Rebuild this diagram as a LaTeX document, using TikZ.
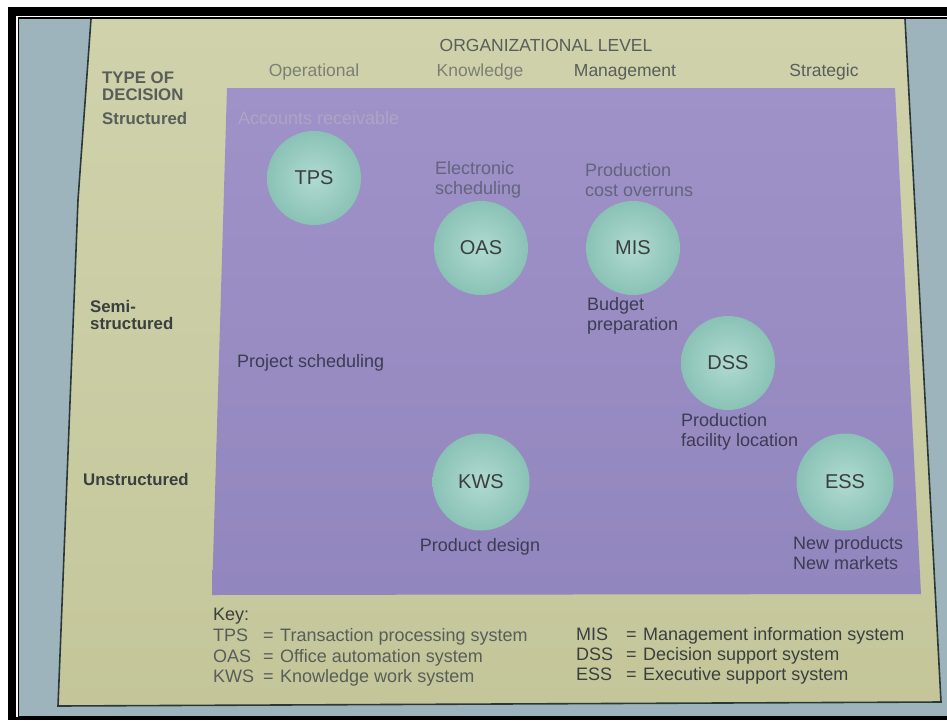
\documentclass[tikz,border=0pt]{standalone}
\usepackage{fontspec}
\setmainfont{Liberation Sans}
\usepackage{tikz}

\definecolor{photoblue}{RGB}{158,180,188}
\definecolor{pagetop}{RGB}{208,210,172}
\definecolor{pagebottom}{RGB}{196,198,154}
\definecolor{pageedge}{RGB}{44,56,56}
\definecolor{gridtop}{RGB}{158,146,200}
\definecolor{gridbottom}{RGB}{146,134,190}
\definecolor{ballcore}{RGB}{176,218,210}
\definecolor{ballrim}{RGB}{138,194,182}
\definecolor{inkdark}{RGB}{58,64,62}
\definecolor{inkmid}{RGB}{88,94,88}
\definecolor{inklight}{RGB}{122,128,116}
\definecolor{inkpurple}{RGB}{60,60,84}
\definecolor{inkfaded}{RGB}{100,100,126}
\definecolor{inkfaint}{RGB}{172,166,196}

\newcommand{\keyrow}[2]{\makebox[50pt][l]{#1}\makebox[17pt][l]{=}#2}

\tikzset{
  sys/.style={circle, minimum size=94pt, inner sep=0pt, inner color=ballcore,
    outer color=ballrim, text=inkdark, font=\fontsize{20}{22}\selectfont},
  task/.style={anchor=west, align=left, inner sep=0pt, text=inkpurple,
    font=\fontsize{18}{19.5}\selectfont},
  orglevel/.style={inner sep=0pt, font=\fontsize{17.5}{20}\selectfont},
  decision/.style={anchor=west, align=left, inner sep=0pt, text=inkdark,
    font=\bfseries\fontsize{16.8}{17}\selectfont},
  keyitem/.style={anchor=base west, inner sep=0pt, text=inkdark,
    font=\fontsize{18}{20}\selectfont},
}

\begin{document}
\begin{tikzpicture}[x=1pt, y=-1pt]
    \useasboundingbox (0,0) rectangle (947,720);

    % Photo frame and background
    \fill[white] (0,0) rectangle (947,720);
    \fill[black] (8,7) rectangle (947,720);
    \fill[white] (16,16) rectangle (947,717);
    \fill[black] (17.6,17.4) rectangle (947,716.6);
    \fill[photoblue] (19.4,19) rectangle (947,716);

    % Draw the page
    \shade[top color=pagetop, bottom color=pagebottom]
        (91,19) -- (905,19) -- (941,702) -- (58,706) -- (78,200) -- cycle;
    \draw[pageedge, line width=1.6pt] (91,19) -- (78,200) -- (58,706) -- (941,702) -- (905,19);

    % Draw the decision grid
    \shade[top color=gridtop, bottom color=gridbottom]
        (227,88) -- (895,88) -- (921,594) -- (212,595) -- cycle;

    % Organizational levels
    \node[orglevel, text=inkmid] (org) at (546,45) {ORGANIZATIONAL LEVEL};
    \node[orglevel, text=inklight] (oper) at (314,72) {Operational};
    \node[orglevel, text=inklight] (know) at (480,72) {Knowledge};
    \node[orglevel, text=inkmid] (mgmt) at (625,72) {Management};
    \node[orglevel, text=inkmid] (strat) at (824,72) {Strategic};

    % Types of decision
    \node[decision, text=inkmid] (type) at (102,86) {TYPE OF\\DECISION};
    \node[decision, text=inkmid] (struct) at (102,118) {Structured};
    \node[decision] (semi) at (90,315) {Semi-\\structured};
    \node[decision] (unstruct) at (83,479) {Unstructured};

    % Systems
    \node[sys] (tps) at (314,178) {TPS};
    \node[sys] (oas) at (481,248) {OAS};
    \node[sys] (mis) at (633,248) {MIS};
    \node[sys] (dss) at (728,363) {DSS};
    \node[sys, minimum size=97pt] (kws) at (481,482) {KWS};
    \node[sys, minimum size=97pt] (ess) at (845,482) {ESS};

    % Example decisions
    \node[task, text=inkfaint] (receivable) at (238,118) {Accounts receivable};
    \node[task, text=inkfaded] (scheduling) at (435,180) {Electronic\\scheduling};
    \node[task, text=inkfaded] (overruns) at (585,180) {Production\\cost overruns};
    \node[task] (budget) at (587,316) {Budget\\preparation};
    \node[task] (project) at (237,363) {Project scheduling};
    \node[task] (facility) at (681,432) {Production\\facility location};
    \node[task, anchor=center] (design) at (480,547) {Product design};
    \node[task] (markets) at (793,553) {New products\\New markets};

    % Key
    \node[keyitem] (key) at (213,620) {Key:};
    \node[keyitem, text=inkmid] (keytps) at (213,641) {\keyrow{TPS}{Transaction processing system}};
    \node[keyitem, text=inkmid] (keyoas) at (213,662) {\keyrow{OAS}{Office automation system}};
    \node[keyitem, text=inkmid] (keykws) at (213,682) {\keyrow{KWS}{Knowledge work system}};
    \node[keyitem] (keymis) at (576,640) {\keyrow{MIS}{Management information system}};
    \node[keyitem] (keydss) at (576,660) {\keyrow{DSS}{Decision support system}};
    \node[keyitem] (keyess) at (576,680) {\keyrow{ESS}{Executive support system}};

\end{tikzpicture}
\end{document}
